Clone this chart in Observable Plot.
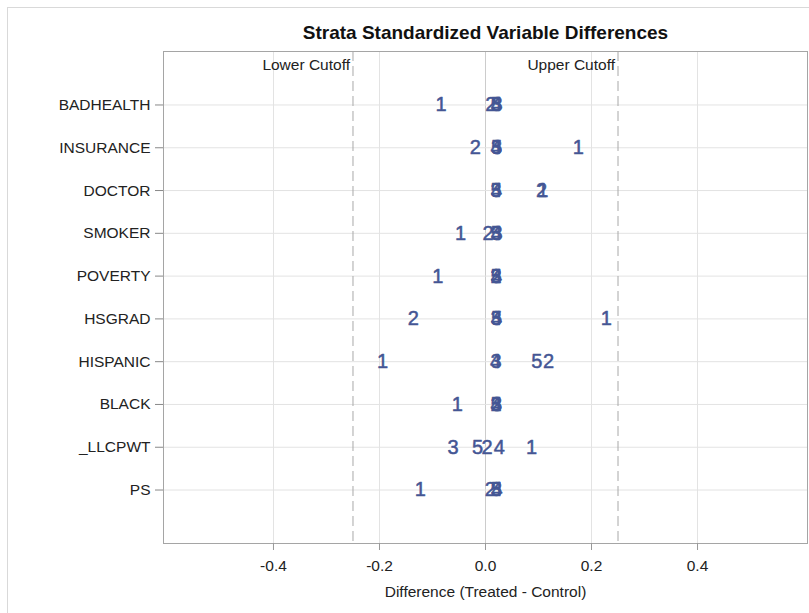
<!DOCTYPE html>
<html>
<head>
<meta charset="utf-8">
<script src="https://cdn.jsdelivr.net/npm/d3@7"></script>
<script src="https://cdn.jsdelivr.net/npm/@observablehq/plot@0.6"></script>
<style>
  html, body { margin: 0; padding: 0; background: #fff; overflow: hidden; }
  #chart { position: absolute; left: 0; top: 0; }
  #border { position: absolute; left: 7px; top: 7px; width: 900px; height: 700px; border: 1px solid #d9d9d9; pointer-events: none; }
</style>
</head>
<body>
<div id="chart"></div>
<div id="border"></div>
<script>
// ---- data ----
const variables = ["BADHEALTH","INSURANCE","DOCTOR","SMOKER","POVERTY","HSGRAD","HISPANIC","BLACK","_LLCPWT","PS"];
const strata = ["1","2","3","4","5"];
// differences (Treated - Control) per stratum, in the order of `variables`
const stratum1 = [-0.084, 0.175, 0.108, -0.047, -0.090, 0.228, -0.194, -0.053, 0.087, -0.123];
const stratum2 = [0.010, -0.019, 0.106, 0.005, 0.020, -0.136, 0.119, 0.020, 0.003, 0.009];
const stratum3 = [0.022, 0.021, 0.020, 0.022, 0.020, 0.020, 0.020, 0.021, -0.061, 0.021];
const stratum4 = [0.021, 0.020, 0.021, 0.021, 0.021, 0.021, 0.019, 0.020, 0.026, 0.022];
const stratum5 = [0.020, 0.021, 0.020, 0.020, 0.020, 0.021, 0.097, 0.020, -0.015, 0.020];
const xTicks = [-0.4, -0.2, 0, 0.2, 0.4];
const cutoffs = [-0.25, 0.25];
const cutoffLabels = ["Lower Cutoff", "Upper Cutoff"];
const title = "Strata Standardized Variable Differences";
const xLabel = "Difference (Treated - Control)";

const series = [stratum1, stratum2, stratum3, stratum4, stratum5];
const data = [];
series.forEach((vals, i) => {
  vals.forEach((v, j) => data.push({variable: variables[j], stratum: strata[i], diff: v}));
});
const cutoffData = cutoffs.map((c, i) => ({x: c, label: cutoffLabels[i]}));

const font = "'Liberation Sans', Arial, sans-serif";

const chart = Plot.plot({
  width: 809,
  height: 613,
  marginTop: 51,
  marginBottom: 70,
  marginLeft: 163,
  marginRight: 2,
  style: {fontFamily: font, background: "#fff", color: "#222"},
  x: {domain: [-0.6075, 0.6075]},
  y: {type: "point", domain: variables, padding: 1.25, round: false},
  marks: [
    Plot.gridX(xTicks, {stroke: "#e3e3e3", strokeOpacity: 1}),
    Plot.ruleX([0], {stroke: "#cccccc"}),
    Plot.gridY(variables, {stroke: "#e3e3e3", strokeOpacity: 1}),
    Plot.ruleX(cutoffData, {x: "x", stroke: "#a8a8a8", strokeWidth: 1, strokeDasharray: "10,5"}),
    Plot.text(cutoffData, {x: "x", text: "label", frameAnchor: "top", lineAnchor: "middle", textAnchor: "end", dx: -3, dy: 13.5, fontSize: 15.5, fill: "#222"}),
    Plot.frame({stroke: "#a5a5a5"}),
    Plot.axisY({tickSize: 8, tickPadding: 5, fontSize: 15.5, label: null, stroke: "#888", color: "#222"}),
    Plot.axisX(xTicks, {tickSize: 7, tickPadding: 9, fontSize: 15.5, label: null, tickFormat: d => d.toFixed(1), stroke: "#999", color: "#222"}),
    Plot.text([xLabel], {frameAnchor: "bottom", lineAnchor: "middle", dy: 49, fontSize: 15.5, fill: "#222"}),
    Plot.text([title], {frameAnchor: "top", lineAnchor: "middle", dy: -19, fontSize: 19, fontWeight: "bold", fill: "#111"}),
    Plot.text(data, {x: "diff", y: "variable", text: "stratum", fill: "#445694", stroke: "#445694", strokeWidth: 0.5, fontSize: 20})
  ]
});
document.getElementById("chart").appendChild(chart);
</script>
</body>
</html>
